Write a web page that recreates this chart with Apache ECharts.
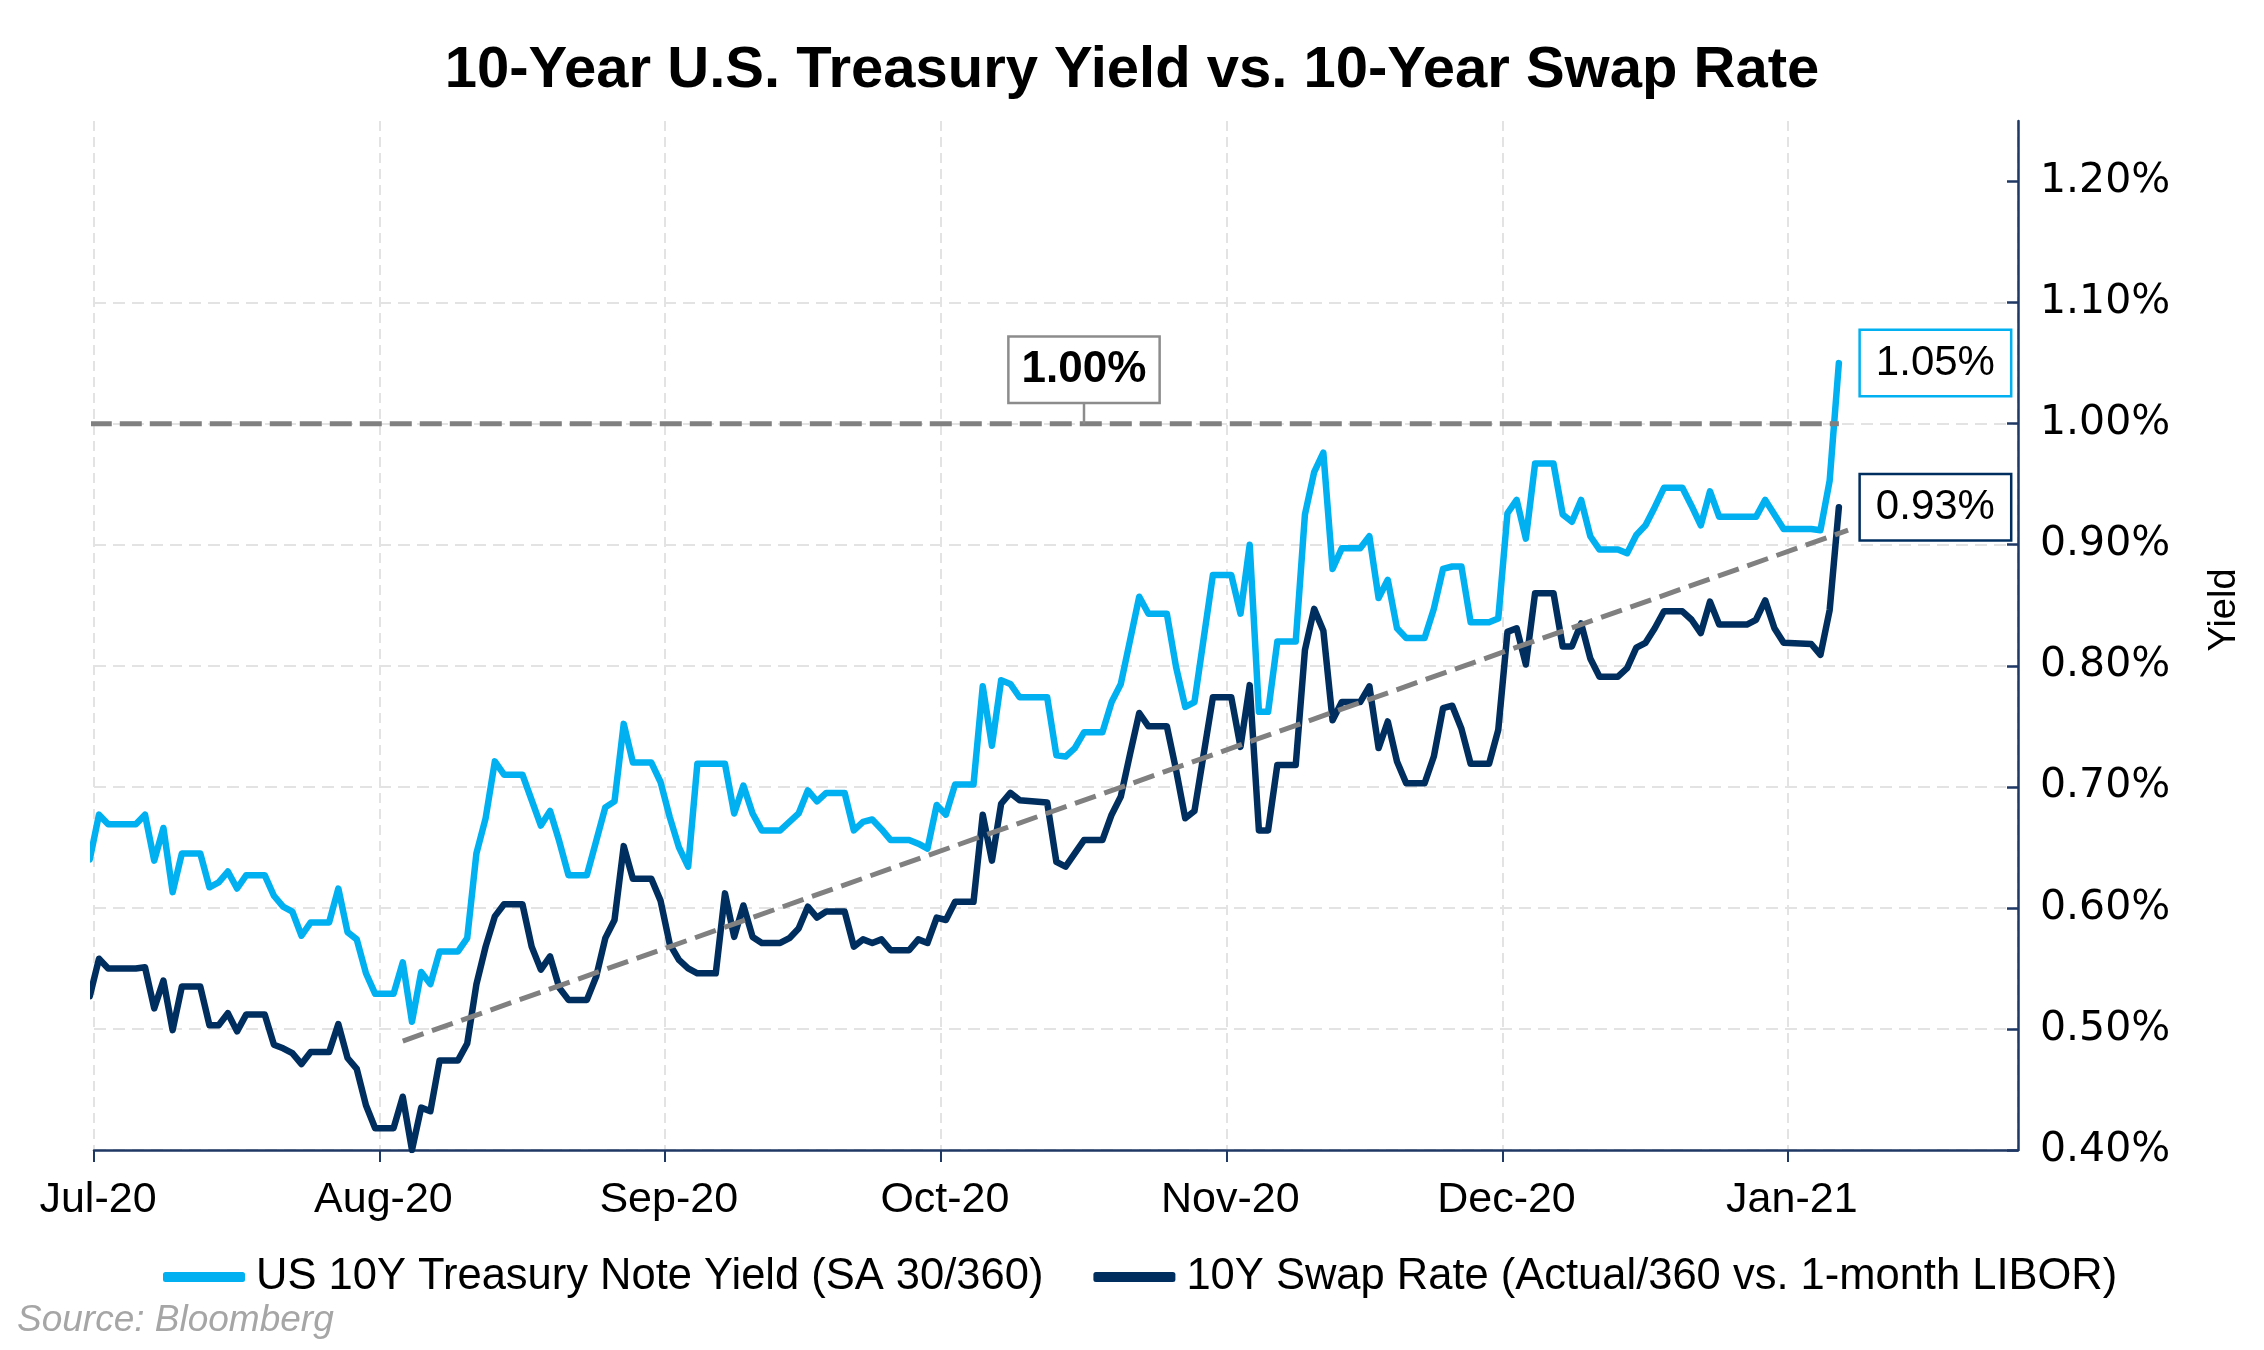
<!DOCTYPE html>
<html><head><meta charset="utf-8">
<script src="https://cdn.jsdelivr.net/npm/echarts@6/dist/echarts.min.js"></script>
<style>html,body{margin:0;padding:0;background:#fff}#c{width:2264px;height:1350px}</style>
</head><body><div id="c"></div>
<script>
const chartTitle = '10-Year U.S. Treasury Yield vs. 10-Year Swap Rate';
const seriesNames = ['US 10Y Treasury Note Yield (SA 30/360)', '10Y Swap Rate (Actual/360 vs. 1-month LIBOR)'];
const sourceText = 'Source: Bloomberg';
const yAxisName = 'Yield';

const dates = [
 '2020-06-30','2020-07-01','2020-07-02','2020-07-05','2020-07-06','2020-07-07','2020-07-08','2020-07-09','2020-07-10','2020-07-12',
 '2020-07-13','2020-07-14','2020-07-15','2020-07-16','2020-07-17','2020-07-19','2020-07-20','2020-07-21','2020-07-22','2020-07-23',
 '2020-07-24','2020-07-26','2020-07-27','2020-07-28','2020-07-29','2020-07-30','2020-07-31','2020-08-02','2020-08-03','2020-08-04',
 '2020-08-05','2020-08-06','2020-08-07','2020-08-09','2020-08-10','2020-08-11','2020-08-12','2020-08-13','2020-08-14','2020-08-16',
 '2020-08-17','2020-08-18','2020-08-19','2020-08-20','2020-08-21','2020-08-23','2020-08-24','2020-08-25','2020-08-26','2020-08-27',
 '2020-08-28','2020-08-30','2020-08-31','2020-09-01','2020-09-02','2020-09-03','2020-09-04','2020-09-06','2020-09-07','2020-09-08',
 '2020-09-09','2020-09-10','2020-09-11','2020-09-13','2020-09-14','2020-09-15','2020-09-16','2020-09-17','2020-09-18','2020-09-20',
 '2020-09-21','2020-09-22','2020-09-23','2020-09-24','2020-09-25','2020-09-27','2020-09-28','2020-09-29','2020-09-30','2020-10-01',
 '2020-10-02','2020-10-04','2020-10-05','2020-10-06','2020-10-07','2020-10-08','2020-10-09','2020-10-12','2020-10-13','2020-10-14',
 '2020-10-15','2020-10-16','2020-10-18','2020-10-19','2020-10-20','2020-10-21','2020-10-22','2020-10-23','2020-10-25','2020-10-26',
 '2020-10-27','2020-10-28','2020-10-30','2020-11-01','2020-11-02','2020-11-03','2020-11-04','2020-11-05','2020-11-06','2020-11-08',
 '2020-11-09','2020-11-10','2020-11-11','2020-11-12','2020-11-13','2020-11-15','2020-11-16','2020-11-17','2020-11-18','2020-11-19',
 '2020-11-20','2020-11-22','2020-11-23','2020-11-24','2020-11-25','2020-11-26','2020-11-27','2020-11-29','2020-11-30','2020-12-01',
 '2020-12-02','2020-12-03','2020-12-04','2020-12-06','2020-12-07','2020-12-08','2020-12-09','2020-12-10','2020-12-11','2020-12-13',
 '2020-12-14','2020-12-15','2020-12-16','2020-12-17','2020-12-18','2020-12-20','2020-12-21','2020-12-22','2020-12-23','2020-12-24',
 '2020-12-27','2020-12-28','2020-12-29','2020-12-30','2020-12-31','2021-01-03','2021-01-04','2021-01-05','2021-01-06'
];

const treasuryYield = [
 0.640,0.677,0.669,0.669,0.677,0.639,0.666,0.613,0.645,0.645,
 0.617,0.621,0.630,0.616,0.627,0.627,0.610,0.601,0.597,0.577,
 0.588,0.588,0.616,0.580,0.574,0.546,0.529,0.529,0.555,0.506,
 0.547,0.537,0.564,0.564,0.575,0.645,0.674,0.721,0.710,0.710,
 0.689,0.668,0.680,0.655,0.627,0.627,0.655,0.683,0.688,0.752,
 0.720,0.720,0.704,0.675,0.650,0.634,0.719,0.719,0.719,0.678,
 0.701,0.678,0.664,0.664,0.671,0.678,0.697,0.688,0.695,0.695,
 0.664,0.671,0.673,0.665,0.656,0.656,0.653,0.649,0.685,0.677,
 0.702,0.702,0.783,0.734,0.788,0.785,0.774,0.774,0.726,0.725,
 0.732,0.745,0.745,0.770,0.785,0.821,0.857,0.843,0.843,0.799,
 0.766,0.770,0.875,0.875,0.843,0.900,0.762,0.762,0.820,0.820,
 0.925,0.960,0.976,0.880,0.897,0.897,0.907,0.856,0.871,0.831,
 0.823,0.823,0.847,0.880,0.882,0.882,0.836,0.836,0.839,0.926,
 0.937,0.905,0.967,0.967,0.925,0.919,0.937,0.907,0.896,0.896,
 0.893,0.908,0.916,0.931,0.947,0.947,0.932,0.916,0.944,0.923,
 0.923,0.923,0.937,0.925,0.913,0.913,0.912,0.953,1.050
];

const swapRate = [
 0.527,0.558,0.550,0.550,0.551,0.517,0.540,0.499,0.535,0.535,
 0.503,0.503,0.513,0.498,0.512,0.512,0.487,0.484,0.480,0.471,
 0.481,0.481,0.504,0.476,0.467,0.437,0.418,0.418,0.444,0.400,
 0.435,0.432,0.474,0.474,0.488,0.537,0.568,0.593,0.603,0.603,
 0.568,0.549,0.560,0.534,0.524,0.524,0.543,0.575,0.590,0.651,
 0.624,0.624,0.606,0.570,0.557,0.550,0.546,0.546,0.612,0.576,
 0.602,0.576,0.571,0.571,0.575,0.583,0.601,0.592,0.597,0.597,
 0.568,0.574,0.571,0.574,0.565,0.565,0.574,0.571,0.592,0.590,
 0.605,0.605,0.677,0.639,0.686,0.695,0.689,0.687,0.638,0.634,
 0.645,0.656,0.656,0.677,0.692,0.727,0.761,0.750,0.750,0.714,
 0.674,0.680,0.774,0.774,0.733,0.784,0.664,0.664,0.718,0.718,
 0.813,0.847,0.829,0.755,0.770,0.770,0.783,0.732,0.754,0.721,
 0.703,0.703,0.725,0.765,0.767,0.748,0.719,0.719,0.747,0.828,
 0.831,0.801,0.860,0.860,0.816,0.816,0.835,0.806,0.791,0.791,
 0.798,0.815,0.819,0.831,0.845,0.845,0.838,0.827,0.853,0.834,
 0.834,0.838,0.854,0.831,0.819,0.818,0.809,0.846,0.931
];

const thresholdValue = 1.00;
const thresholdLabelDate = '2020-10-16';
const trendDates = ['2020-08-03', '2021-01-07'];
const trendValues = [0.490, 0.912];
const yTicks = [0.40, 0.50, 0.60, 0.70, 0.80, 0.90, 1.00, 1.10, 1.20];
const xMin = '2020-07-01';
const xMax = '2021-01-26';
const monthNames = ['Jan','Feb','Mar','Apr','May','Jun','Jul','Aug','Sep','Oct','Nov','Dec'];

const FONT = '"Liberation Sans", Arial, Helvetica, sans-serif';
const WIDE_FONT = '"DejaVu Sans", Verdana, sans-serif';
const AXIS_NAVY = '#1f3864';
const LIGHT = '#00b0f0';
const DARK = '#002f5f';
const GRAY = '#808080';
const GRID = '#e3e3e3';

const at = d => d + ' 13:00';
const pct = v => v.toFixed(2) + '%';
const last = dates.length - 1;

const chart = echarts.init(document.getElementById('c'), null, {renderer: 'canvas'});
const option = {
  animation: false,
  backgroundColor: '#ffffff',
  textStyle: {fontFamily: FONT},
  title: {
    text: chartTitle, left: 'center', top: 37,
    textStyle: {fontSize: 58, fontWeight: 'bold', color: '#000', fontFamily: FONT}
  },
  grid: {left: 94, right: 246, top: 121, bottom: 200, containLabel: false, outerBoundsMode: 'none'},
  legend: {
    data: seriesNames, left: 158, top: 1250, icon: 'roundRect',
    itemWidth: 82, itemHeight: 10, itemGap: 50, selectedMode: false,
    textStyle: {fontSize: 43.5, color: '#000', fontFamily: FONT, padding: [0, 0, 0, 6]}
  },
  xAxis: {
    type: 'time', min: xMin, max: xMax, splitNumber: 7,
    minInterval: 28 * 864e5, maxInterval: 31 * 864e5,
    axisLine: {show: true, onZero: false, lineStyle: {color: AXIS_NAVY, width: 2.5}},
    axisTick: {show: true, length: 12, lineStyle: {color: AXIS_NAVY, width: 2}},
    axisLabel: {
      fontSize: 43, color: '#000', margin: 29, fontFamily: FONT, hideOverlap: false, padding: [0, 0, 0, 8],
      formatter: v => { const d = new Date(v); return monthNames[d.getMonth()] + '-' + String(d.getFullYear()).slice(2); }
    },
    splitLine: {show: true, lineStyle: {color: GRID, width: 2, type: [10, 6]}}
  },
  yAxis: {
    type: 'value', position: 'right', min: 0.4, max: 1.25, interval: 0.1,
    axisLine: {show: true, onZero: false, lineStyle: {color: AXIS_NAVY, width: 2.5}},
    axisTick: {show: true, inside: true, length: 11, customValues: yTicks, lineStyle: {color: AXIS_NAVY, width: 2.5}},
    axisLabel: {customValues: yTicks, formatter: v => pct(v), fontSize: 41, color: '#000', margin: 22, fontFamily: WIDE_FONT, padding: [7, 0, 0, 0]},
    splitLine: {show: true, showMaxLine: false, lineStyle: {color: GRID, width: 2, type: [12, 7]}}
  },
  series: [
    {
      name: seriesNames[0], type: 'line', symbol: 'none', z: 3,
      data: dates.map((d, i) => [at(d), treasuryYield[i]]),
      lineStyle: {color: LIGHT, width: 6.5, join: 'round', cap: 'round'},
      itemStyle: {color: LIGHT},
      endLabel: {
        show: true, distance: 22, formatter: p => pct(p.value[1]),
        fontSize: 42, color: '#000', fontFamily: FONT, lineHeight: 48,
        backgroundColor: '#fff', borderColor: LIGHT, borderWidth: 2.5, padding: [8, 15, 8, 15]
      }
    },
    {
      name: seriesNames[1], type: 'line', symbol: 'none', z: 3,
      data: dates.map((d, i) => [at(d), swapRate[i]]),
      lineStyle: {color: DARK, width: 6.5, join: 'round', cap: 'round'},
      itemStyle: {color: DARK},
      endLabel: {
        show: true, distance: 22, formatter: p => pct(p.value[1]),
        fontSize: 42, color: '#000', fontFamily: FONT, lineHeight: 48,
        backgroundColor: '#fff', borderColor: DARK, borderWidth: 2.5, padding: [8, 15, 8, 15]
      }
    },
    {
      name: 'threshold', type: 'line', symbol: 'none', z: 4, silent: true,
      data: [[at(dates[0]), thresholdValue], [at(dates[last]), thresholdValue]],
      lineStyle: {color: GRAY, width: 5, type: [22, 8]},
      markPoint: {
        silent: true,
        symbol: 'rect', symbolSize: [2.5, 22], symbolOffset: [0, -11],
        itemStyle: {color: '#8c8c8c'},
        data: [{coord: [at(thresholdLabelDate), thresholdValue]}],
        label: {
          show: true, position: 'top', distance: 0, formatter: () => pct(thresholdValue),
          fontSize: 44, fontWeight: 'bold', color: '#000', fontFamily: FONT, lineHeight: 50,
          backgroundColor: '#fff', borderColor: '#8c8c8c', borderWidth: 2.5, padding: [7, 12, 7, 12]
        }
      }
    },
    {
      name: 'trend', type: 'line', symbol: 'none', z: 4, silent: true,
      data: trendDates.map((d, i) => [at(d), trendValues[i]]),
      lineStyle: {color: GRAY, width: 5, type: [22, 9]}
    }
  ],
  graphic: [
    {
      type: 'text', left: 17, top: 1302,
      style: {text: sourceText, fill: '#a6a6a6', fontSize: 37, fontStyle: 'italic', fontFamily: FONT}
    },
    {
      type: 'text', x: 2225, y: 610, rotation: Math.PI / 2,
      style: {text: yAxisName, fill: '#000', fontSize: 38, fontFamily: FONT, align: 'center', verticalAlign: 'middle'}
    }
  ]
};
chart.setOption(option);
</script>
</body></html>
